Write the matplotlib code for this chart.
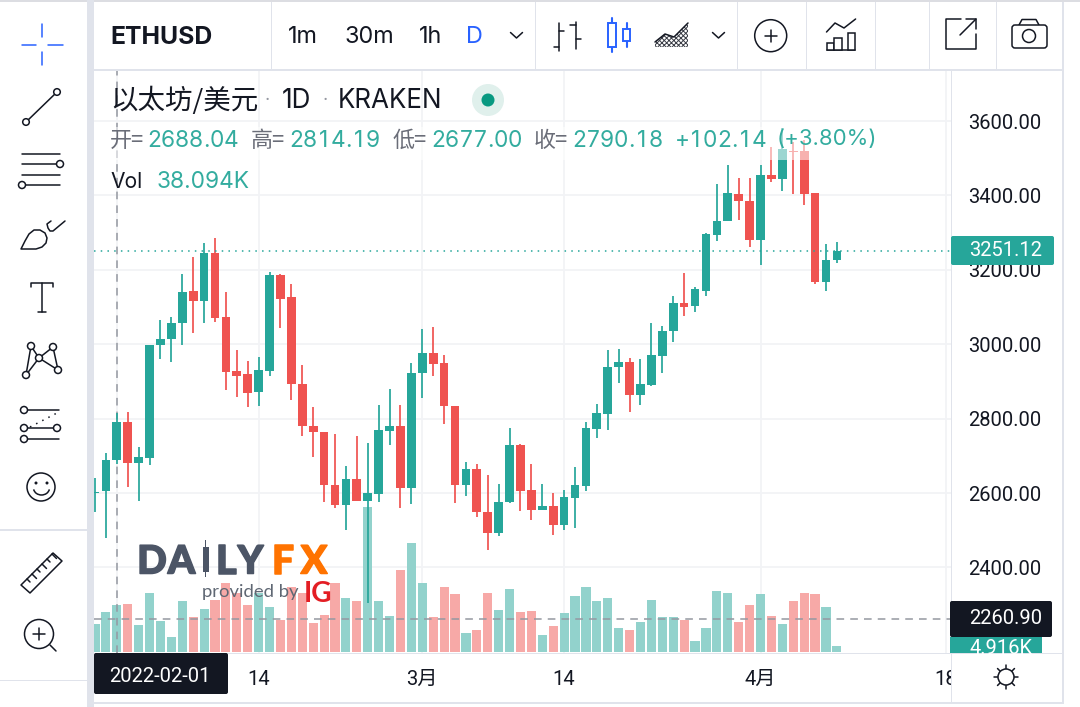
import numpy as np
import matplotlib
matplotlib.use("Agg")
import matplotlib.pyplot as plt
import matplotlib.patheffects as pe
from matplotlib.patches import Rectangle, Circle, FancyBboxPatch, Polygon, Arc

plt.rcParams['font.family'] = ['Roboto', 'Noto Sans CJK SC', 'DejaVu Sans']
plt.rcParams['hatch.linewidth'] = 0.7

#%% data, one candle per day, first candle is 2022-01-30
opens = [2600, 2605, 2688.04, 2791, 2681, 2694, 2997, 3014, 3056, 3143, 3117, 3246, 3074, 2928, 2919, 2872, 2929,
         3186, 3126, 2892, 2781, 2765, 2622, 2567, 2637, 2579, 2597, 2768, 2781, 2614, 2922, 2977, 2949, 2835, 2622,
         2665, 2549, 2492, 2577, 2729, 2608, 2554, 2566, 2514, 2587, 2619, 2772, 2812, 2938, 2951, 2863, 2890, 2968,
         3035, 3112, 3103, 3143, 3294, 3330, 3403, 3386, 3280, 3455, 3443, 3520, 3519, 3407, 3166, 3226]
highs = [2640, 2707, 2814.19, 2819, 2725, 2999, 3065, 3074, 3190, 3235, 3273, 3285, 3140, 2984, 2954, 2966, 3195,
         3189, 3162, 2943, 2831, 2765, 2760, 2673, 2753, 2734, 2838, 2879, 2836, 2949, 3041, 3046, 2970, 2835, 2684,
         2677, 2648, 2625, 2774, 2733, 2677, 2625, 2601, 2608, 2670, 2790, 2840, 2984, 2987, 2962, 2960, 3058, 3049,
         3131, 3192, 3153, 3298, 3431, 3483, 3446, 3446, 3482, 3531, 3580, 3544, 3549, 3407, 3270, 3275]
lows = [2549, 2479, 2677.00, 2617, 2579, 2675, 2961, 2952, 2997, 3029, 3058, 3061, 2876, 2858, 2832, 2834, 2915,
        3044, 2851, 2753, 2697, 2577, 2561, 2501, 2579, 2304, 2577, 2730, 2560, 2571, 2855, 2916, 2786, 2574, 2593,
        2536, 2447, 2484, 2572, 2553, 2527, 2554, 2488, 2501, 2507, 2606, 2749, 2769, 2895, 2819, 2836, 2888, 2924,
        3006, 3077, 3087, 3131, 3278, 3330, 3334, 3261, 3214, 3437, 3413, 3405, 3375, 3163, 3143, 3219]
closes = [2604, 2689, 2790.18, 2681, 2698, 2999, 3015, 3058, 3140, 3117, 3246, 3070, 2926, 2915, 2870, 2930, 3186,
          3122, 2894, 2780, 2763, 2622, 2567, 2637, 2579, 2599, 2769, 2781, 2614, 2923, 2977, 2948, 2835, 2622, 2665,
          2548, 2492, 2577, 2729, 2605, 2555, 2566, 2514, 2589, 2621, 2774, 2814, 2940, 2951, 2863, 2892, 2970, 3036,
          3112, 3101, 3148, 3296, 3332, 3406, 3385, 3280, 3455, 3443, 3524, 3516, 3405, 3166, 3227, 3251.12]
volumes = [22.3, 32.4, 38.094, 38.9, 21.5, 48.1, 25.0, 12.2, 41.6, 28.0, 34.5, 42.4, 55.8, 48.1, 38.1, 47.6, 36.4,
           25.8, 53.0, 47.6, 23.7, 29.9, 55.8, 43.8, 41.1, 118.0, 41.1, 28.8, 66.6, 88.9, 55.8, 28.0, 52.5, 46.8, 15.0,
           17.4, 47.6, 34.0, 50.9, 32.4, 33.2, 13.6, 20.9, 31.6, 45.4, 53.0, 41.6, 43.8, 19.3, 18.0, 24.5, 42.4, 28.0,
           28.0, 25.8, 8.7, 19.3, 49.5, 47.6, 24.5, 38.1, 46.8, 29.4, 22.8, 41.6, 48.1, 46.8, 36.7, 4.916]
price_ticks = [2400, 2600, 2800, 3000, 3200, 3400, 3600]
time_ticks = [13, 28, 41, 59, 76]
time_labels = ["14", "3月", "14", "4月", "18"]
last_price = 3251.12
cross_price = 2260.90

UP = "#26a69a"
DOWN = "#ef5350"
UP_VOL = "#92d2cc"
DOWN_VOL = "#f7a9a7"
GRID = "#f2f3f6"
GAP = "#e0e3eb"
INK = "#131722"
BLUE = "#2962ff"
CROSS = "#9598a1"
LEGEND_GREEN = "#33ac9f"
W, H = 1080, 707
INTER = ["Inter", "Noto Sans CJK SC", "DejaVu Sans"]
CJK = ["Noto Sans CJK SC", "DejaVu Sans"]
AXIS_PX = 20.2


def fs(px):
    # font size from pixel height, figure is 100 dpi
    return px * 0.72


def to_axes_box(x0, y0, x1, y1):
    return [x0 / W, 1 - y1 / H, (x1 - x0) / W, (y1 - y0) / H]


#%% chart
fig = plt.figure(figsize=(W / 100, H / 100), dpi=100, facecolor="white")
ax = fig.add_axes(to_axes_box(94, 70, 951, 653))
ax_vol = ax.twinx()
ax.set_zorder(ax_vol.get_zorder() + 1)
ax.patch.set_visible(False)

days = np.arange(len(closes)) - 2
up = np.array(closes) >= np.array(opens)
colors = [UP if u else DOWN for u in up]

ax.set_xlim(-2.09, 76.46)
ax.set_ylim(2170.2, 3737.07)
ax_vol.set_ylim(-1.06, 474.7)

# grid goes on the lowest layer so the volume bars sit over it
for p in price_ticks:
    ax_vol.plot([0, 1], [p, p], color=GRID, lw=1.3, transform=ax.get_yaxis_transform(), zorder=0)
for t in [0] + time_ticks:
    ax_vol.axvline(t, color=GRID, lw=1.3, zorder=0)

ax_vol.bar(days, volumes, width=0.84, color=[UP_VOL if u else DOWN_VOL for u in up], zorder=2)
ax_vol.set_yticks([])

ax.axhline(cross_price, color=CROSS, lw=1.1, ls=(0, (5, 4)), zorder=1)
ax.axvline(0, color=CROSS, lw=1.1, ls=(0, (5, 4)), zorder=1)
ax.vlines(days, lows, highs, colors=colors, lw=1.25, zorder=3)
ax.bar(days, np.abs(np.array(closes) - np.array(opens)), bottom=np.minimum(opens, closes),
       width=0.8, color=colors, zorder=4)
ax.axhline(last_price, color=UP, lw=1.1, ls=(0, (1, 3.4)), zorder=5)

ax.yaxis.tick_right()
ax.set_yticks(price_ticks)
ax.set_yticklabels([f"{p:.2f}" for p in price_ticks])
ax.set_xticks(time_ticks)
ax.set_xticklabels(time_labels)
ax.tick_params(axis="y", length=0, pad=12, labelsize=fs(AXIS_PX), labelcolor=INK)
ax.tick_params(axis="x", length=0, pad=12, labelsize=fs(AXIS_PX), labelcolor=INK)
for s in ax.spines.values():
    s.set_visible(False)
for s in ax_vol.spines.values():
    s.set_visible(False)

#%% interface drawn on top, in pixel coordinates
ui = fig.add_axes([0, 0, 1, 1], zorder=20)
ui.set_xlim(0, W)
ui.set_ylim(H, 0)
ui.axis("off")


def rect(x0, y0, x1, y1, color, alpha=1, z=1):
    ui.add_patch(Rectangle((x0, y0), x1 - x0, y1 - y0, fc=color, ec="none", alpha=alpha, zorder=z))


def line(xs, ys, color=INK, lw=1.1, **kw):
    ui.plot(xs, ys, color=color, lw=lw, solid_capstyle="round", **kw)


def ring(x, y, r, color=INK, lw=1.1):
    ui.add_patch(Circle((x, y), r, fc="white", ec=color, lw=lw, zorder=4))


def label(x, y, s, color=INK, px=19, ha="left", **kw):
    return ui.text(x, y, s, color=color, fontsize=fs(px), ha=ha, va="center", **kw)


def tabular(x, y, s, color=LEGEND_GREEN, px=22.7):
    # Inter in matplotlib has a narrow 1, the legend numbers use equal width digits
    for c in s:
        cell = 6.6 if c == "." else 14.0
        ui.text(x + cell / 2, y, c, color=color, fontsize=fs(px), ha="center", va="center_baseline", family=INTER)
        x += cell


# panel frames
rect(0, 0, W, 2, "#dcdde2")
rect(87, 0, 94, 707, GAP)
rect(94, 69, 1064, 71, GAP)
rect(0, 529, 87, 531, GAP)
rect(0, 680, 87, 681, GAP)
rect(1062, 2, 1064, 703, GAP)
rect(94, 702, 1064, 704, GAP)
rect(951, 71, 952, 702, GAP)
rect(94, 653, 1062, 654, GAP)
rect(952, 654, 1062, 702, "white")
for x in [271, 535, 737, 806, 875, 929, 996]:
    rect(x, 2, x + 1, 69, GAP)

# fade behind the legend row
rect(94, 127, 876, 160, "white", alpha=0.55, z=2)

# top toolbar
label(110, 37, "ETHUSD", px=24.8, fontweight="bold", family=INTER)
label(288, 37, "1m", px=23.4, family=INTER)
label(344, 37, "30m", px=23.4, family=INTER)
label(419, 37, "1h", px=23.4, family=INTER)
label(466, 37, "D", color=BLUE, px=23.4, family=INTER)
for cx in [516.5, 718.5]:
    line([cx - 6, cx, cx + 6], [32.5, 38, 32.5])

# ohlc bars icon
line([559, 559], [23, 51])
line([553.5, 559], [47, 47])
line([559, 564], [31, 31])
line([575.6, 575.6], [22, 49])
line([570, 575.6], [25, 25])
line([575.6, 581], [39, 39])
# candles icon
line([612, 612], [18, 52], color=BLUE, lw=1.5)
ui.add_patch(Rectangle((608, 23), 8, 24, fc="white", ec=BLUE, lw=1.4, zorder=3))
line([626.5, 626.5], [23, 47], color=BLUE, lw=1.5)
ui.add_patch(Rectangle((622.6, 29), 7.6, 12, fc="white", ec=BLUE, lw=1.4, zorder=3))
# area icon
ui.add_patch(Polygon([(655, 42), (665, 34), (674, 37), (688, 23), (688, 47), (655, 47)],
                     fc="white", ec="#3a3d46", hatch="xxxxxxx", lw=0))
line([655, 665, 674, 688], [42, 34, 37, 23])
# add indicator
ring(770.7, 35.7, 16)
line([764.5, 777], [35.7, 35.7], zorder=6)
line([770.7, 770.7], [29.5, 42], zorder=6)
# indicators icon
line([826.5, 835, 844, 855.6], [32, 23, 28, 19])
for x0, y0, x1 in [(827, 43, 834), (834, 38, 841.5), (847.6, 33, 855)]:
    ui.add_patch(Rectangle((x0, y0), x1 - x0, 50 - y0, fc="white", ec=INK, lw=1.1, zorder=3))
line([827, 855], [50, 50])
# popout icon
line([961, 946, 946, 976, 976], [19, 19, 49, 49, 34])
line([960, 976], [35, 19])
line([966, 976, 976], [19, 19, 29])
# camera icon
ui.add_patch(FancyBboxPatch((1012, 25), 35, 23, boxstyle="round,pad=0,rounding_size=3", fc="white", ec=INK, lw=1.1, zorder=3))
line([1019, 1022, 1036, 1039], [25, 19.5, 19.5, 25])
ring(1029, 36, 6.5)

# left toolbar
line([42, 42], [24, 37], color=BLUE)
line([42, 42], [52, 65], color=BLUE)
line([22, 36], [44.7, 44.7], color=BLUE)
line([48, 63], [44.7, 44.7], color=BLUE)

line([26, 57], [122, 92])
ring(57, 92, 3.3)
ring(26, 122, 3.3)

line([22, 60], [154, 154])
line([22, 58], [164, 164])
line([22, 60], [175, 175])
line([24, 60], [185, 185])
ring(60, 164, 3.5)
ring(22, 185, 3.5)

# brush
ui.add_patch(Polygon([(21, 249), (25, 241), (29, 234), (34, 230), (40, 230), (45, 233), (47, 238), (46, 243),
                      (42, 247), (36, 249)],
                     fc="white", ec=INK, lw=1.1, joinstyle="round"))
line([51, 47, 48, 50, 53, 65], [221, 224, 228, 231, 231, 221])

# text tool
line([31, 31, 53, 53], [287, 282.5, 282.5, 287])
line([42, 42], [283, 312])
line([38, 46], [312, 312])

# network
net = [(31, 346), (53, 347), (39, 358), (26, 375), (58, 370)]
for a, b in [(3, 0), (0, 2), (3, 2), (2, 1), (2, 4), (1, 4)]:
    line([net[a][0], net[b][0]], [net[a][1], net[b][1]])
for p in net:
    ring(p[0], p[1], 3.5)

# channel
line([24, 59], [410, 410])
line([24, 57], [428, 428])
line([24, 59], [439, 439])
line([30, 57], [427, 413], ls=(0, (1, 3.5)))
for x, y in [(24, 410), (24, 428), (57, 428), (24, 439)]:
    ring(x, y, 3.5)

# smile
ring(41, 487, 14)
ui.add_patch(Circle((36, 483), 1.5, fc=INK, ec="none", zorder=5))
ui.add_patch(Circle((47, 483), 1.5, fc=INK, ec="none", zorder=5))
ui.add_patch(Arc((41.5, 488), 16, 14, theta1=10, theta2=170, ec=INK, lw=1.1, zorder=5))

# ruler
ui.add_patch(Polygon([(21, 585), (53, 553), (62, 561), (30, 593)], fc="white", ec=INK, lw=1.1, joinstyle="round"))
for i, (x, y) in enumerate([(27, 579), (32, 574), (37, 569), (42, 564), (47, 559), (52, 554)]):
    d = 4.5 if i % 2 else 3
    line([x, x + d], [y, y + d])

# zoom
ring(39, 634, 14.5)
line([33, 45], [634, 634], zorder=6)
line([39, 39], [628, 640], zorder=6)
line([50, 56], [645, 651])

# legend
label(110, 101, "以太坊/美元", px=27.5, color=INK, family=CJK)
label(264, 101, "·", px=20, color="#9598a1")
label(282, 101, "1D", px=26, family=INTER)
label(323, 101, "·", px=20, color="#9598a1")
label(338, 101, "KRAKEN", px=26, family=INTER)
ui.add_patch(Circle((488, 100), 16, fc="#e0f0ec", ec="none"))
ui.add_patch(Circle((488, 100), 6.5, fc="#089981", ec="none"))

for x, s in [(110, "开="), (251, "高="), (393, "低="), (534, "收=")]:
    label(x, 141, s, px=22, color="#6a6d78", family=CJK)
for x, s in [(147, "2688.04"), (289, "2814.19"), (431, "2677.00"), (572, "2790.18"), (675, "+102.14")]:
    tabular(x, 138.5, s)
label(777, 139, "(+3.80%)", px=22.2, color=LEGEND_GREEN, family=INTER)
label(110, 182, "Vol", px=21, color=INK, family=INTER)
label(157, 182, "38.094K", px=22.7, color=LEGEND_GREEN, family=INTER)

# watermark
logo_stroke = [pe.withStroke(linewidth=1.1, foreground="#4c5566")]
fx_stroke = [pe.withStroke(linewidth=1.1, foreground="#ff7300")]
for x, s, c, st in [(152, "D", "#4c5566", logo_stroke), (181.5, "A", "#4c5566", logo_stroke),
                    (226, "L", "#4c5566", logo_stroke), (250.5, "Y", "#4c5566", logo_stroke),
                    (283, "F", "#ff7300", fx_stroke), (314, "X", "#ff7300", fx_stroke)]:
    ui.text(x, 558.5, s, color=c, fontsize=fs(39), fontweight="black", family=["Lato", "DejaVu Sans"],
            ha="center", va="center_baseline", path_effects=st)
rect(203, 547, 208.5, 572, "#4c5566", z=3)
rect(205.2, 540, 206.4, 577, "#4c5566", z=3)
label(202, 592, "provided by", px=18.5, color="#5f6773", family=["Lato", "DejaVu Sans"])
ui.text(318, 592, "IG", color="#e31e24", fontsize=fs(28), fontweight="bold", family=["Lato", "DejaVu Sans"],
        ha="center", va="center_baseline")

# price and time labels
ui.add_patch(FancyBboxPatch((951, 236), 103, 29, boxstyle="round,pad=0,rounding_size=2", fc="#26a69a", ec="none", zorder=3))
ui.text(969, 251, f"{last_price:.2f}", color="white", fontsize=fs(AXIS_PX), ha="left", va="center", zorder=4)
vol_box = Rectangle((950, 637), 92, 16, fc="#26a69a", ec="none", zorder=3)
ui.add_patch(vol_box)
vt = ui.text(969, 648, "4.916K", color="white", fontsize=fs(AXIS_PX), ha="left", va="center", zorder=4)
vt.set_clip_path(vol_box)
ui.add_patch(FancyBboxPatch((950, 601), 102, 36, boxstyle="round,pad=0,rounding_size=2", fc=INK, ec="none", zorder=5))
ui.text(969, 619, f"{cross_price:.2f}", color="white", fontsize=fs(AXIS_PX), ha="left", va="center", zorder=6)
ui.add_patch(FancyBboxPatch((94, 653), 134, 41, boxstyle="round,pad=0,rounding_size=2", fc=INK, ec="none", zorder=5))
ui.text(160, 676, "2022-02-01", color="white", fontsize=fs(AXIS_PX), ha="center", va="center", zorder=6)

# sun icon
ring(1006, 677, 8)
for a in np.arange(0, 360, 45):
    ca, sa = np.cos(np.radians(a)), np.sin(np.radians(a))
    line([1006 + 8 * ca, 1006 + 12 * ca], [677 + 8 * sa, 677 + 12 * sa])

fig.savefig("out.png", dpi=100)
